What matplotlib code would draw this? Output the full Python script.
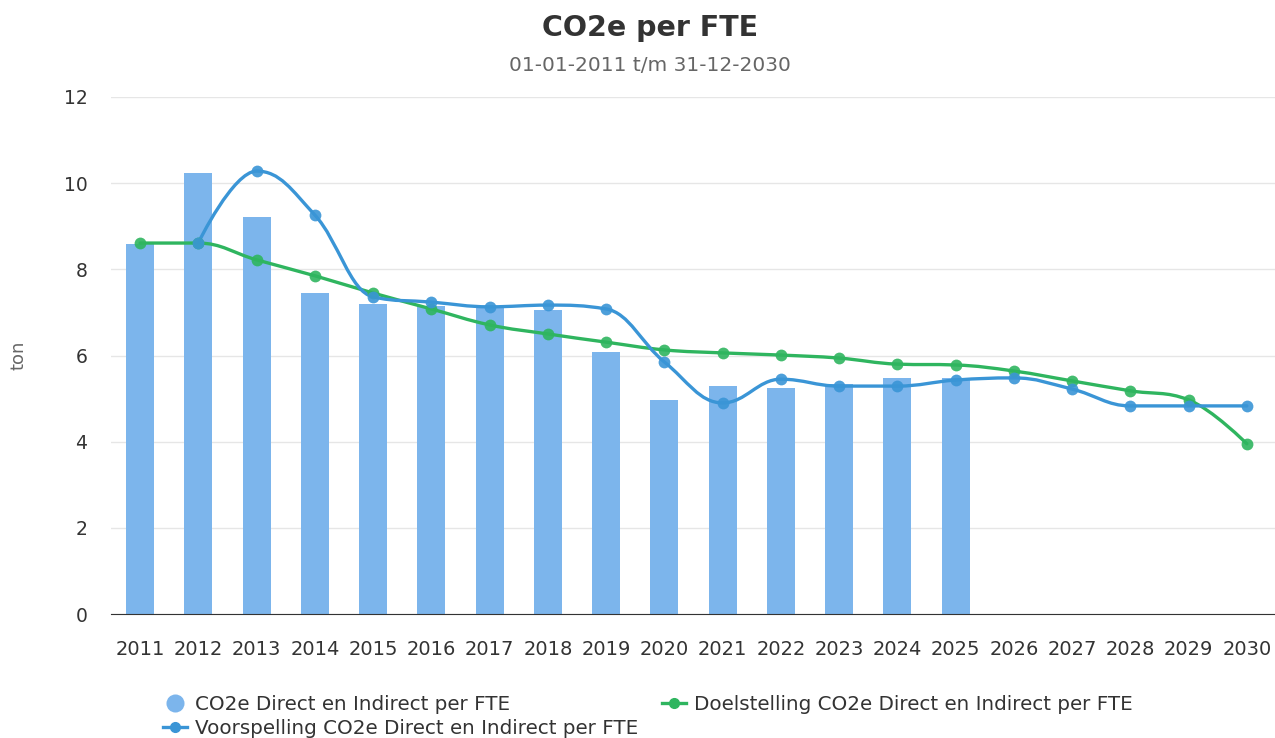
import numpy as np
import matplotlib
matplotlib.use("Agg")
import matplotlib.pyplot as plt
from matplotlib.path import Path
from matplotlib.patches import PathPatch
from matplotlib.lines import Line2D

plt.rcParams['font.family'] = ['DejaVu Sans']

# Data
jaren = [str(j) for j in range(2011, 2031)]
co2e_fte = [8.59, 10.24, 9.22, 7.45, 7.20, 7.15, 7.10, 7.06, 6.08, 4.97,
            5.29, 5.25, 5.34, 5.48, 5.48]
voorspelling = [None, 8.62, 10.28, 9.26, 7.36, 7.24, 7.13, 7.17, 7.08, 5.85,
                4.90, 5.45, 5.29, 5.29, 5.43, 5.48, 5.22, 4.83, 4.83, 4.83]
doelstelling = [8.61, 8.61, 8.22, 7.85, 7.45, 7.08, 6.71, 6.50, 6.31, 6.13,
                6.06, 6.01, 5.94, 5.80, 5.78, 5.64, 5.41, 5.18, 4.97, 3.95]

kleur_bar = '#7cb5ec'
kleur_blauw = '#3a95d6'
kleur_groen = '#2fb55f'


def spline_path(xs, ys, smoothing=1.5):
    # spline zoals Highcharts die tekent (cubic bezier met controlepunten)
    n = len(xs)
    left = [None] * n
    right = [None] * n
    for i in range(n):
        if i == 0 or i == n - 1:
            left[i] = (xs[i], ys[i])
            right[i] = (xs[i], ys[i])
            continue
        px, py = xs[i], ys[i]
        lx, ly = xs[i - 1], ys[i - 1]
        nx, ny = xs[i + 1], ys[i + 1]
        d = smoothing + 1
        lcx = (smoothing * px + lx) / d
        lcy = (smoothing * py + ly) / d
        rcx = (smoothing * px + nx) / d
        rcy = (smoothing * py + ny) / d
        if rcx != lcx:
            corr = (rcy - lcy) * (rcx - px) / (rcx - lcx) + py - rcy
            lcy += corr
            rcy += corr
        if lcy > ly and lcy > py:
            lcy = max(ly, py)
            rcy = 2 * py - lcy
        elif lcy < ly and lcy < py:
            lcy = min(ly, py)
            rcy = 2 * py - lcy
        if rcy > ny and rcy > py:
            rcy = max(ny, py)
            lcy = 2 * py - rcy
        elif rcy < ny and rcy < py:
            rcy = min(ny, py)
            lcy = 2 * py - rcy
        left[i] = (lcx, lcy)
        right[i] = (rcx, rcy)
    verts = [(xs[0], ys[0])]
    codes = [Path.MOVETO]
    for i in range(1, n):
        verts += [right[i - 1], left[i], (xs[i], ys[i])]
        codes += [Path.CURVE4] * 3
    return Path(verts, codes)


fig = plt.figure(figsize=(12.75, 7.38), dpi=100)
ax = fig.add_axes([111 / 1275, 1 - 614 / 738, 1165 / 1275, (614 - 97) / 738])

x = np.arange(len(jaren))
ax.bar(x[:len(co2e_fte)], co2e_fte, width=0.48, color=kleur_bar, zorder=2)

for serie, kleur in [(doelstelling, kleur_groen), (voorspelling, kleur_blauw)]:
    xs = [i for i, v in enumerate(serie) if v is not None]
    ys = [v for v in serie if v is not None]
    ax.add_patch(PathPatch(spline_path(xs, ys), facecolor='none', edgecolor=kleur,
                           lw=2.4, zorder=3, capstyle='round', joinstyle='round'))
    ax.plot(xs, ys, 'o', color=kleur, ms=8.5, zorder=4, alpha=0.9, mec='none')

ax.set_xlim(-0.5, len(jaren) - 0.5)
ax.set_ylim(0, 12)
ax.set_yticks(range(0, 13, 2))
ax.set_xticks(x)
ax.set_xticklabels(jaren)
ax.grid(axis='y', color='#e6e6e6', lw=1, zorder=0)
for s in ['top', 'right', 'left']:
    ax.spines[s].set_visible(False)
ax.spines['bottom'].set_color('#333333')
ax.tick_params(axis='both', length=0, colors='#333333')
ax.tick_params(axis='y', pad=17, labelsize=13.5)
ax.tick_params(axis='x', pad=19, labelsize=14)
ax.set_ylabel('ton', fontsize=13, color='#666666', labelpad=26)

fig.text(0.51, 0.962, 'CO2e per FTE', ha='center', va='center', fontsize=20.5,
         fontweight='bold', color='#333333')
fig.text(0.51, 0.911, '01-01-2011 t/m 31-12-2030', ha='center', va='center',
         fontsize=14.5, color='#666666')

handles = [
    Line2D([], [], ls='none', marker='o', ms=13, color=kleur_bar, mec='none'),
    Line2D([], [], color=kleur_blauw, lw=2.4, marker='o', ms=7),
    Line2D([], [], color=kleur_groen, lw=2.4, marker='o', ms=7),
]
labels = ['CO2e Direct en Indirect per FTE',
          'Voorspelling CO2e Direct en Indirect per FTE',
          'Doelstelling CO2e Direct en Indirect per FTE']
leg = fig.legend(handles, labels, ncol=2, loc='upper left',
                 bbox_to_anchor=(153 / 1275, 1 - 685 / 738), frameon=False,
                 fontsize=14.3, handlelength=1.2, handletextpad=0.4,
                 columnspacing=1.2, labelspacing=0.25, borderpad=0)
for t in leg.get_texts():
    t.set_color('#333333')

fig.savefig('out.png', dpi=100)
